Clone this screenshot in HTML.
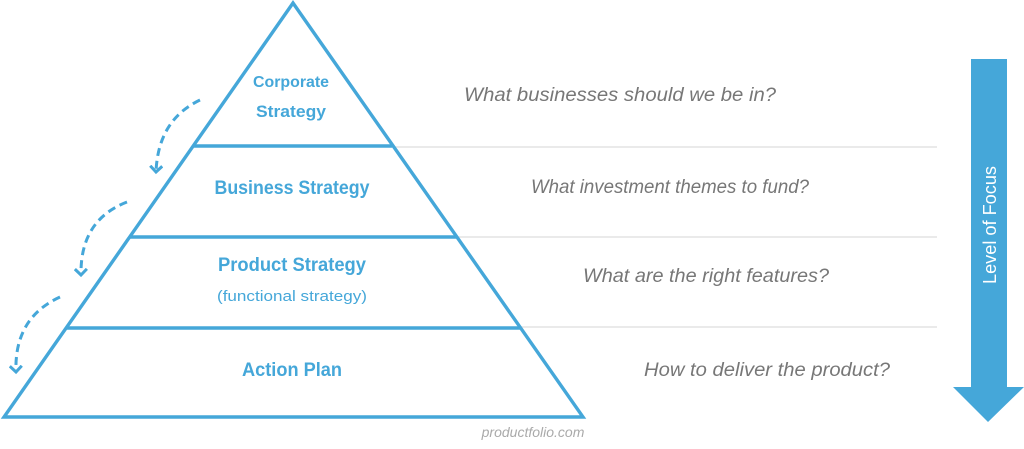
<!DOCTYPE html>
<html><head><meta charset="utf-8"><style>html,body{margin:0;padding:0;background:#fff;}svg{display:block}</style></head>
<body>
<svg width="1024" height="449" viewBox="0 0 1024 449" xmlns="http://www.w3.org/2000/svg">
<defs>
<marker id="ah" markerWidth="14" markerHeight="14" refX="7" refY="7" orient="auto" markerUnits="userSpaceOnUse">
<path d="M1,1 L7,7 L1,13" fill="none" stroke="#45a7d9" stroke-width="3"/>
</marker>
</defs>
<g stroke="#dddddd" stroke-width="1.2">
<line x1="392" y1="147" x2="937" y2="147"/>
<line x1="456" y1="237" x2="937" y2="237"/>
<line x1="520" y1="327" x2="937" y2="327"/>
</g>
<g stroke="#45a7d9" stroke-width="3.4" fill="none" stroke-linejoin="miter">
<polygon points="293,3 4,417 583,417"/>
<line x1="194" y1="146" x2="392" y2="146"/>
<line x1="130" y1="237" x2="456" y2="237"/>
<line x1="67" y1="328" x2="520" y2="328"/>
</g>
<g stroke="#45a7d9" stroke-width="3" fill="none" stroke-dasharray="8,5">
<path d="M200,100 Q158,120 156,172" marker-end="url(#ah)"/>
<path d="M127,202 Q80,220 81,275" marker-end="url(#ah)"/>
<path d="M60,297 Q14,318 16,372" marker-end="url(#ah)"/>
</g>
<g fill="#45a7d9" font-family="Liberation Sans, sans-serif" font-weight="bold" text-anchor="middle">
<text x="291" y="87" font-size="16" textLength="76" lengthAdjust="spacingAndGlyphs">Corporate</text>
<text x="291" y="117" font-size="17" textLength="70" lengthAdjust="spacingAndGlyphs">Strategy</text>
<text x="292" y="194" font-size="19" textLength="155" lengthAdjust="spacingAndGlyphs">Business Strategy</text>
<text x="292" y="271" font-size="19" textLength="148" lengthAdjust="spacingAndGlyphs">Product Strategy</text>
<text x="292" y="376" font-size="19" textLength="100" lengthAdjust="spacingAndGlyphs">Action Plan</text>
</g>
<text x="292" y="301" fill="#45a7d9" font-family="Liberation Sans, sans-serif" font-size="15" text-anchor="middle" textLength="150" lengthAdjust="spacingAndGlyphs">(functional strategy)</text>
<g fill="#777777" font-family="Liberation Sans, sans-serif" font-style="italic" font-size="19">
<text x="464" y="101" textLength="312" lengthAdjust="spacingAndGlyphs">What businesses should we be in?</text>
<text x="531" y="193" textLength="278" lengthAdjust="spacingAndGlyphs">What investment themes to fund?</text>
<text x="583" y="282" textLength="246" lengthAdjust="spacingAndGlyphs">What are the right features?</text>
<text x="644" y="376" textLength="246" lengthAdjust="spacingAndGlyphs">How to deliver the product?</text>
</g>
<text x="533" y="437" fill="#aaaaaa" font-family="Liberation Sans, sans-serif" font-style="italic" font-size="14" text-anchor="middle">productfolio.com</text>
<polygon points="971,59 1007,59 1007,387 1024,387 988,422 953,387 971,387" fill="#45a7d9"/>
<text transform="translate(996,225) rotate(-90)" fill="#ffffff" font-family="Liberation Sans, sans-serif" font-size="18" text-anchor="middle" textLength="118" lengthAdjust="spacingAndGlyphs">Level of Focus</text>
</svg>
</body></html>
